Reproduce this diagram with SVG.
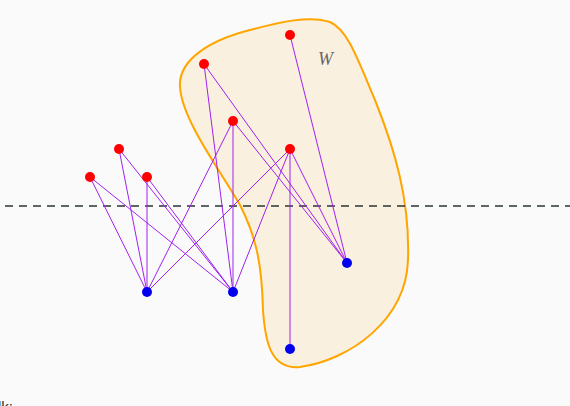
<svg xmlns="http://www.w3.org/2000/svg" width="570" height="406" viewBox="0 0 570 406">
<style>
.e{stroke:#a020f0;stroke-width:1;fill:none}
.r{fill:#ff0000}
.b{fill:#0000ee}
</style>
<rect width="570" height="406" fill="#fafafa"/>
<g id="W">
<path d="M180,87 C178,60 210,40 250,30 C280,22 310,15 330,22 C348,30 358,60 375,100 C395,150 410,200 408,260 C406,320 350,360 300,367 C270,370 265,340 263,310 C262,270 258,240 240,205 C220,170 182,120 180,87 Z" fill="#faf0e0" stroke="#ffa500" stroke-width="2"/>
<text x="318" y="65" font-family="Liberation Serif, serif" font-style="italic" font-size="18" fill="#666">W</text>
</g>
<line x1="5" y1="206" x2="570" y2="206" stroke="#2a3434" stroke-width="1.3" stroke-dasharray="8,6"/>
<g id="edges">
<line class="e" x1="290" y1="35" x2="347" y2="263"/>
<line class="e" x1="204" y1="64" x2="233" y2="292"/>
<line class="e" x1="204" y1="64" x2="347" y2="263"/>
<line class="e" x1="233" y1="121" x2="233" y2="292"/>
<line class="e" x1="233" y1="121" x2="347" y2="263"/>
<line class="e" x1="233" y1="121" x2="147" y2="292"/>
<line class="e" x1="290" y1="149" x2="290" y2="349"/>
<line class="e" x1="290" y1="149" x2="347" y2="263"/>
<line class="e" x1="290" y1="149" x2="233" y2="292"/>
<line class="e" x1="290" y1="149" x2="147" y2="292"/>
<line class="e" x1="119" y1="149" x2="147" y2="292"/>
<line class="e" x1="119" y1="149" x2="233" y2="292"/>
<line class="e" x1="147" y1="177" x2="147" y2="292"/>
<line class="e" x1="147" y1="177" x2="233" y2="292"/>
<line class="e" x1="90" y1="177" x2="147" y2="292"/>
<line class="e" x1="90" y1="177" x2="233" y2="292"/>
</g>
<g id="r1"><circle class="r" cx="290" cy="35" r="5"/></g>
<g id="r2"><circle class="r" cx="204" cy="64" r="5"/></g>
<g id="r3"><circle class="r" cx="233" cy="121" r="5"/></g>
<g id="r4"><circle class="r" cx="290" cy="149" r="5"/></g>
<g id="r5"><circle class="r" cx="119" cy="149" r="5"/></g>
<g id="r6"><circle class="r" cx="147" cy="177" r="5"/></g>
<g id="r7"><circle class="r" cx="90" cy="177" r="5"/></g>
<g id="b1"><circle class="b" cx="147" cy="292" r="5"/></g>
<g id="b2"><circle class="b" cx="233" cy="292" r="5"/></g>
<g id="b3"><circle class="b" cx="347" cy="263" r="5"/></g>
<g id="b4"><circle class="b" cx="290" cy="349" r="5"/></g>
<text x="-2" y="412" font-family="Liberation Sans, sans-serif" font-size="15" fill="#333">lk:</text>
</svg>
